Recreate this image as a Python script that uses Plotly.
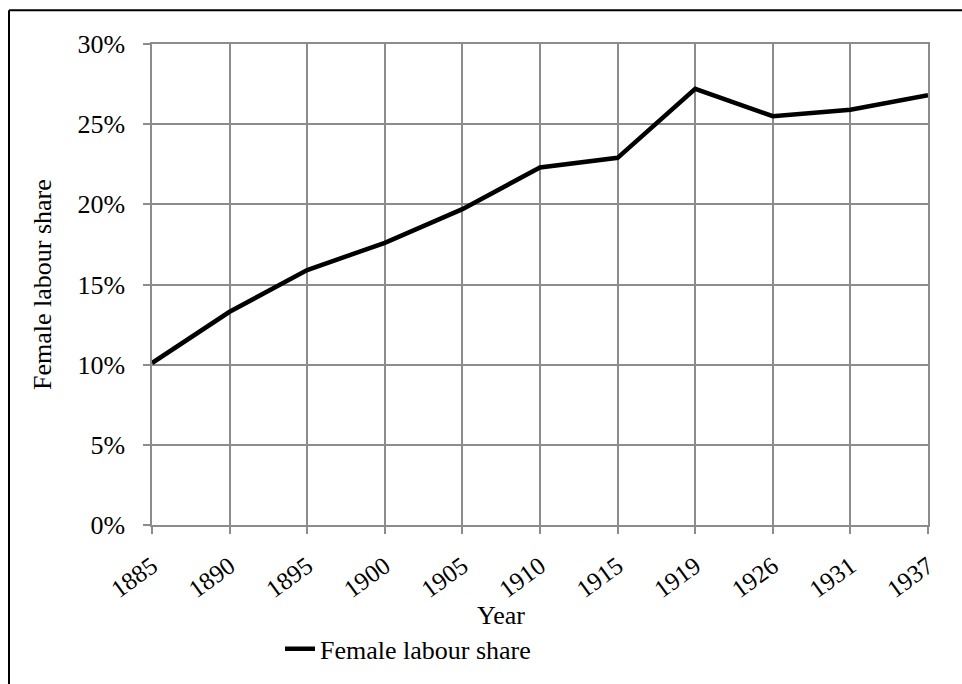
import plotly.graph_objects as go

years = ["1885", "1890", "1895", "1900", "1905", "1910", "1915", "1919", "1926", "1931", "1937"]
female_share = [0.101, 0.133, 0.159, 0.176, 0.197, 0.223, 0.229, 0.272, 0.255, 0.259, 0.268]
y_ticks = [0, 0.05, 0.10, 0.15, 0.20, 0.25, 0.30]
y_ticktext = ["0%", "5%", "10%", "15%", "20%", "25%", "30%"]

W, H = 962, 684
L, R, T, B = 152, 34, 44, 155
pw, ph = W - L - R, H - T - B

def px(x):
    return (x - L) / pw

def py(y):
    return (H - B - y) / ph

idx = list(range(len(years)))
font = "Liberation Serif, Times New Roman, serif"
grid = "#8c8c8c"
fs = 26

fig = go.Figure()
fig.add_trace(go.Scatter(
    x=idx, y=female_share, mode="lines", name="Female labour share",
    line=dict(color="black", width=4.5),
))

fig.update_layout(
    width=W, height=H,
    margin=dict(l=L, r=R, t=T, b=B),
    paper_bgcolor="white", plot_bgcolor="white",
    font=dict(family=font, size=fs, color="black"),
    showlegend=True,
    legend=dict(x=px(280), y=py(654), xanchor="left", yanchor="middle",
                font=dict(size=fs), bgcolor="rgba(0,0,0,0)"),
    xaxis=dict(
        range=[0, len(years) - 1], tickvals=idx, ticktext=years,
        tickangle=-36, tickfont=dict(size=25),
        showgrid=True, gridcolor=grid, gridwidth=1.5,
        showline=True, linecolor=grid, linewidth=1.5, mirror=True,
        ticks="outside", ticklen=7, tickcolor=grid, tickwidth=1.5,
        ticklabelstandoff=8, zeroline=False, fixedrange=True,
    ),
    yaxis=dict(
        range=[0, 0.30], tickvals=y_ticks, ticktext=y_ticktext,
        showgrid=True, gridcolor=grid, gridwidth=1.5,
        showline=True, linecolor=grid, linewidth=1.5, mirror=True,
        ticks="outside", ticklen=7, tickcolor=grid, tickwidth=1.5,
        ticklabelstandoff=13, zeroline=False, fixedrange=True,
    ),
    annotations=[
        dict(text="Year", x=px(501), y=py(620), xref="paper", yref="paper",
             xanchor="center", yanchor="middle", showarrow=False,
             font=dict(size=fs)),
        dict(text="Female labour share", x=px(43), y=py(287), xref="paper", yref="paper",
             xanchor="center", yanchor="middle", showarrow=False, textangle=-90,
             font=dict(size=fs)),
    ],
    shapes=[
        dict(type="line", xref="paper", yref="paper", x0=px(9), x1=px(9),
             y0=py(10), y1=py(700), line=dict(color="black", width=2)),
        dict(type="line", xref="paper", yref="paper", x0=px(9), x1=px(980),
             y0=py(10), y1=py(10), line=dict(color="black", width=2)),
    ],
)

fig.write_html("out.html", config={"displayModeBar": False},
               post_script="document.body.style.margin='0';document.body.style.overflow='hidden';")
